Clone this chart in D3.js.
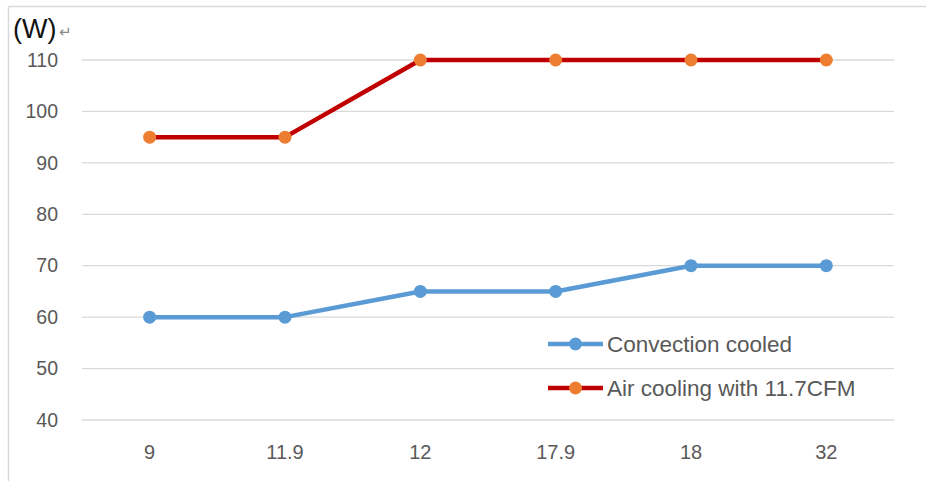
<!DOCTYPE html>
<html><head><meta charset="utf-8">
<script src="https://cdn.jsdelivr.net/npm/d3@7"></script>
<style>body{margin:0;background:#fff}svg{display:block}</style>
</head><body><svg id="c" width="926" height="481"></svg>
<script>
const categories = ["9","11.9","12","17.9","18","32"];
const convection = [60,60,65,65,70,70];
const airCooling = [95,95,110,110,110,110];
const yTicks = [40,50,60,70,80,90,100,110];
const seriesNames = ["Convection cooled","Air cooling with 11.7CFM"];

const svg = d3.select("#c");
const font = "'Liberation Sans', Arial, sans-serif";
// frame
svg.append("line").attr("x1",8.5).attr("x2",926).attr("y1",6.5).attr("y2",6.5).attr("stroke","#d9d9d9").attr("stroke-width",1.5);
svg.append("line").attr("x1",8.5).attr("x2",8.5).attr("y1",6.5).attr("y2",481).attr("stroke","#d9d9d9").attr("stroke-width",1.5);

const x = d3.scaleBand().domain(categories).range([82,894]);
const y = d3.scaleLinear().domain([40,110]).range([420,60]);

const grid = svg.append("g");
grid.selectAll("line").data(yTicks).join("line")
  .attr("x1",82).attr("x2",894).attr("y1",d=>y(d)).attr("y2",d=>y(d))
  .attr("stroke","#d9d9d9").attr("stroke-width",1.3);

const yAxis = svg.append("g").attr("transform","translate(82,0)")
  .call(d3.axisLeft(y).tickValues(yTicks).tickSize(0).tickPadding(24));
yAxis.select(".domain").remove();
yAxis.selectAll("text").attr("font-family",font).attr("font-size",19.5).attr("fill","#595959");

const xAxis = svg.append("g").attr("transform","translate(0,420)")
  .call(d3.axisBottom(x).tickSize(0).tickPadding(25));
xAxis.select(".domain").remove();
xAxis.selectAll("text").attr("font-family",font).attr("font-size",20).attr("fill","#595959");

svg.append("text").attr("x",13).attr("y",38).attr("font-family",font).attr("font-size",27).attr("fill","#111").text("(W)");
svg.append("text").attr("x",59).attr("y",37).attr("font-family","'DejaVu Sans'").attr("font-size",15).attr("fill","#888").text("↵");

const cx = d => x(d) + x.bandwidth()/2;
function series(vals, lineColor, markerColor){
  const data = categories.map((c,i)=>({c, v: vals[i]}));
  svg.append("path").datum(data)
    .attr("d", d3.line().x(d=>cx(d.c)).y(d=>y(d.v)))
    .attr("fill","none").attr("stroke",lineColor).attr("stroke-width",4.5).attr("stroke-linejoin","round");
  svg.append("g").selectAll("circle").data(data).join("circle")
    .attr("cx",d=>cx(d.c)).attr("cy",d=>y(d.v)).attr("r",6.5).attr("fill",markerColor);
}
series(convection,"#5B9BD5","#5B9BD5");
series(airCooling,"#C00000","#ED7D31");

const legend = [[seriesNames[0],"#5B9BD5","#5B9BD5",344],[seriesNames[1],"#C00000","#ED7D31",388]];
legend.forEach(([name,lc,mc,ly])=>{
  svg.append("line").attr("x1",548).attr("x2",603).attr("y1",ly).attr("y2",ly).attr("stroke",lc).attr("stroke-width",4.5);
  svg.append("circle").attr("cx",575.5).attr("cy",ly).attr("r",6.5).attr("fill",mc);
  svg.append("text").attr("x",607).attr("y",ly).attr("dy","0.35em").attr("font-family",font).attr("font-size",22.5).attr("fill","#595959").text(name);
});
</script></body></html>
